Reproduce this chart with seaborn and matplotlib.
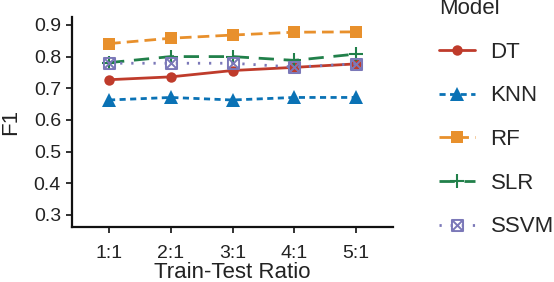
import matplotlib
matplotlib.use("Agg")
import matplotlib.pyplot as plt
import seaborn as sns
import pandas as pd
from matplotlib.path import Path

# F1 scores per model at each train-test ratio
ratios = ["1:1", "2:1", "3:1", "4:1", "5:1"]
models = ["DT", "KNN", "RF", "SLR", "SSVM"]
dt_f1 = [0.727, 0.736, 0.756, 0.766, 0.777]
knn_f1 = [0.663, 0.671, 0.663, 0.671, 0.671]
rf_f1 = [0.841, 0.858, 0.868, 0.877, 0.878]
slr_f1 = [0.781, 0.800, 0.800, 0.788, 0.808]
ssvm_f1 = [0.779, 0.779, 0.779, 0.767, 0.777]

scores = {"DT": dt_f1, "KNN": knn_f1, "RF": rf_f1, "SLR": slr_f1, "SSVM": ssvm_f1}
df = pd.DataFrame(
    [(m, r, v) for m in models for r, v in zip(ratios, scores[m])],
    columns=["Model", "Ratio", "F1"],
)

palette = {"DT": "#BF3B2B", "KNN": "#0A72B5", "RF": "#E8902C",
           "SLR": "#21804A", "SSVM": "#7B78B8"}
markers = {"DT": "o", "KNN": "^", "RF": "s", "SLR": "P", "SSVM": "s"}
dashes = {"DT": "", "KNN": (2.2, 1.6), "RF": (4.2, 2.2),
          "SLR": (5.5, 3.5), "SSVM": (0.8, 3.2)}

sns.set_theme(style="ticks")
plt.rcParams["font.family"] = ["Liberation Sans", "DejaVu Sans"]

fig = plt.figure(figsize=(5.54, 2.82), dpi=100)
ax = fig.add_axes([72 / 554, 1 - 227 / 282, 321 / 554, 210 / 282])

sns.lineplot(data=df, x="Ratio", y="F1", hue="Model", style="Model",
             hue_order=models, style_order=models, palette=palette,
             markers=markers, dashes=dashes, linewidth=2.0,
             errorbar=None, legend=False, ax=ax)

# square-with-cross marker for SSVM
box_x = Path([(-1, -1), (1, -1), (1, 1), (-1, 1), (-1, -1),
              (-1, -1), (1, 1), (-1, 1), (1, -1)],
             [Path.MOVETO, Path.LINETO, Path.LINETO, Path.LINETO, Path.CLOSEPOLY,
              Path.MOVETO, Path.LINETO, Path.MOVETO, Path.LINETO])

sizes = {"DT": 7.5, "KNN": 9.5, "RF": 8, "SLR": 10, "SSVM": 8}
for line, m in zip(ax.lines, models):
    c = palette[m]
    line.set_markersize(sizes[m])
    line.set_markeredgecolor(c)
    line.set_markerfacecolor(c)
    line.set_markeredgewidth(0)
    if m == "SLR":
        line.set_marker("+")
        line.set_markeredgewidth(1.5)
    if m == "SSVM":
        line.set_marker(box_x)
        line.set_markerfacecolor("none")
        line.set_markeredgewidth(1.4)

ax.set_xlim(-0.6, 4.6)
ax.set_ylim(0.262, 0.925)
ax.set_yticks([0.3, 0.4, 0.5, 0.6, 0.7, 0.8, 0.9])
ax.set_yticklabels(["0.3", "0.4", "0.5", "0.6", "0.7", "0.8", "0.9"])
ax.set_xlabel("Train-Test Ratio", fontsize=16, color="#222222", labelpad=0)
ax.set_ylabel("F1", fontsize=16, color="#222222", labelpad=9)
ax.tick_params(axis="both", labelsize=14, labelcolor="#222222",
               length=4, width=1.3, color="#222222")
ax.tick_params(axis="x", pad=9)
ax.tick_params(axis="y", pad=4)
for s in ["left", "bottom"]:
    ax.spines[s].set_linewidth(1.6)
    ax.spines[s].set_color("#111111")
sns.despine(ax=ax)

leg = fig.legend(ax.lines, models, title="Model", loc="upper left",
                 bbox_to_anchor=(439 / 554, 1 + 2 / 282), frameon=False,
                 fontsize=16, title_fontsize=16, borderpad=0, borderaxespad=0,
                 handlelength=1.6, handletextpad=0.72, labelspacing=1.02,
                 alignment="left")

fig.savefig("out.png", dpi=100)
